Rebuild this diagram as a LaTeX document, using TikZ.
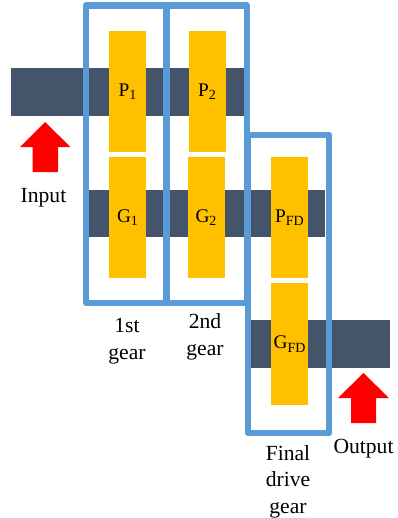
\documentclass[tikz,border=0pt]{standalone}
\usepackage{fontspec}
\setmainfont{Liberation Serif}
\definecolor{shaftc}{HTML}{44546A}
\definecolor{gearc}{HTML}{FFC000}
\definecolor{boxc}{HTML}{5B9BD5}
\newcommand{\gsub}[1]{\raisebox{-2.6pt}{\fontsize{10.5}{12}\selectfont #1}}
\begin{document}
\begin{tikzpicture}[x=0.75pt,y=-0.75pt,
  shaft/.style={fill=shaftc,draw=none},
  gearbox/.style={fill=gearc,draw=none,inner sep=0pt,minimum width=27.75pt,minimum height=91pt,font=\fontsize{14.5}{16}\selectfont},
  stage/.style={draw=boxc,line width=5pt,line join=round},
  pointer/.style={fill=red,draw=none},
  caption/.style={font=\fontsize{16.2}{20}\selectfont,align=center,inner sep=0pt}]
\useasboundingbox (0,0) rectangle (398,518);
% shafts
\fill[shaft] (11,68) rectangle (245,116);
\fill[shaft] (89,190) rectangle (325,237);
\fill[shaft] (251,320) rectangle (390,368);
% stage frames
\draw[stage] (86,5.5) rectangle (166.5,303);
\draw[stage] (166.5,5.5) rectangle (247,303);
\draw[stage] (248,135) rectangle (329,433);
% gears
\node[gearbox] (p1) at (127.5,91.5) {P\gsub{1}};
\node[gearbox] (g1) at (127.5,217.5) {G\gsub{1}};
\node[gearbox] (p2) at (207,91.5) {P\gsub{2}};
\node[gearbox] (g2) at (206,217.5) {G\gsub{2}};
\node[gearbox] (pfd) at (289.5,217.5) {P\gsub{FD}};
\node[gearbox] (gfd) at (289.5,344) {G\gsub{FD}};
% arrows
\fill[pointer] (45,122) -- (70.5,147) -- (58,147) -- (58,172) -- (32.5,172) -- (32.5,147) -- (20,147) -- cycle;
\fill[pointer] (363.5,373) -- (389,398) -- (376,398) -- (376,423) -- (351,423) -- (351,398) -- (338,398) -- cycle;
% labels
\node[caption] (input) at (43.5,197.5) {Input};
\node[caption] (output) at (363.5,448.5) {Output};
\node[caption] (first) at (127,341) {1st\\gear};
\node[caption] (second) at (205,337) {2nd\\gear};
\node[caption] (final) at (288,481.5) {Final\\drive\\gear};
\end{tikzpicture}
\end{document}
